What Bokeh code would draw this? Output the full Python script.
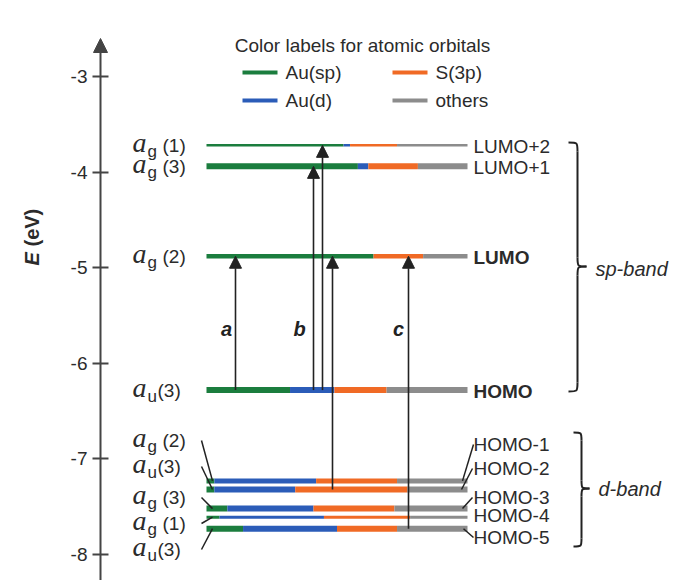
import numpy as np
from bokeh.plotting import figure
from bokeh.models import ColumnDataSource, Range1d, LinearAxis, FixedTicker, Arrow, NormalHead
from bokeh.core.properties import value
from bokeh.embed import file_html
from bokeh.resources import INLINE

# ---------------- data ----------------
level_names = ["LUMO+2", "LUMO+1", "LUMO", "HOMO", "HOMO-1", "HOMO-2", "HOMO-3", "HOMO-4", "HOMO-5"]
level_energy = [-3.72, -3.94, -4.88, -6.28, -7.23, -7.32, -7.52, -7.61, -7.73]
level_sym = ["g", "g", "g", "u", "g", "u", "g", "g", "u"]
level_num = ["(1)", "(3)", "(2)", "(3)", "(2)", "(3)", "(3)", "(1)", "(3)"]
frac_au_sp = [0.525, 0.58, 0.64, 0.32, 0.03, 0.03, 0.08, 0.05, 0.14]
frac_au_d = [0.025, 0.04, 0.00, 0.17, 0.39, 0.31, 0.33, 0.40, 0.36]
frac_s3p = [0.18, 0.19, 0.19, 0.20, 0.31, 0.43, 0.31, 0.33, 0.23]
frac_other = [0.27, 0.19, 0.17, 0.31, 0.27, 0.23, 0.28, 0.22, 0.27]
component_names = ["Au(sp)", "Au(d)", "S(3p)", "others"]
transition_from = ["HOMO", "HOMO", "HOMO", "HOMO-2", "HOMO-5"]
transition_to = ["LUMO", "LUMO+1", "LUMO+2", "LUMO", "LUMO"]
transition_label = ["a", "b", "", "", "c"]
y_ticks = [-8, -7, -6, -5, -4, -3]

# ---------------- layout / style ----------------
W, H = 687, 580
PX_PER_EV = 95.6
Y_AT_M3 = 76.0


def ypx(y):
    """layout pixel row -> energy coordinate"""
    return -3.0 - (y - Y_AT_M3) / PX_PER_EV


def epx(e):
    return Y_AT_M3 + (-3.0 - e) * PX_PER_EV


comp_colors = ["#1b7d3e", "#2b5cb8", "#f06a25", "#8c8c8c"]
bar_x0, bar_x1 = 206.0, 467.0
bar_lw = [2.5, 6, 4.5, 6, 5, 6, 6, 3, 6]
arrow_x = [235, 313, 322, 332, 408]
SANS = value("Liberation Sans")
SERIF = value("Liberation Serif")
INK = "#222222"
TXT = "#2b2b2b"

p = figure(width=W, height=H, x_range=Range1d(0, W), y_range=Range1d(ypx(H), ypx(0)),
           output_backend="svg", toolbar_location=None,
           x_axis_location=None, y_axis_location=None)
p.min_border = 0
p.outline_line_color = None
p.grid.visible = False
p.background_fill_color = "white"
p.border_fill_color = "white"

# ---------------- y axis ----------------
ax = LinearAxis(fixed_location=100, ticker=FixedTicker(ticks=y_ticks))
ax.axis_line_color = None
ax.major_tick_in = 8
ax.major_tick_out = 8
ax.major_tick_line_width = 2
ax.major_tick_line_color = "#444444"
ax.minor_tick_line_color = None
ax.major_label_overrides = {t: str(t) for t in y_ticks}
ax.major_label_text_font = "Liberation Sans"
ax.major_label_text_font_size = "19px"
ax.major_label_text_color = TXT
ax.major_label_standoff = 5
p.add_layout(ax, "left")
p.add_layout(Arrow(end=NormalHead(size=14, fill_color="#444444", line_color="#444444"),
                   x_start=100, y_start=ypx(H), x_end=100, y_end=ypx(38),
                   line_color="#444444", line_width=2))
p.text(x=[31], y=[ypx(265)], text=["E"], angle=np.pi / 2, text_font=SANS,
       text_font_size="20px", text_font_style="bold italic", text_align="left",
       text_baseline="middle", text_color=TXT)
p.text(x=[31], y=[ypx(246)], text=["(eV)"], angle=np.pi / 2, text_font=SANS,
       text_font_size="20px", text_font_style="bold", text_align="left",
       text_baseline="middle", text_color=TXT)

# ---------------- level bars ----------------
seg = dict(x0=[], x1=[], y=[], c=[], lw=[])
fr = list(zip(frac_au_sp, frac_au_d, frac_s3p, frac_other))
for i, e in enumerate(level_energy):
    cum = 0.0
    for k, f in enumerate(fr[i]):
        if f <= 0:
            continue
        seg["x0"].append(bar_x0 + cum * (bar_x1 - bar_x0))
        cum += f
        seg["x1"].append(bar_x0 + cum * (bar_x1 - bar_x0))
        seg["y"].append(e)
        seg["c"].append(comp_colors[k])
        seg["lw"].append(bar_lw[i])
p.segment(x0="x0", x1="x1", y0="y", y1="y", line_color="c", line_width="lw",
          line_cap="butt", source=ColumnDataSource(seg))

# ---------------- transitions ----------------
idx = {n: i for i, n in enumerate(level_names)}
tr = ColumnDataSource(dict(x=arrow_x,
                           y0=[level_energy[idx[a]] for a in transition_from],
                           y1=[level_energy[idx[b]] for b in transition_to]))
p.add_layout(Arrow(end=NormalHead(size=12, fill_color=INK, line_color=INK, line_width=1),
                   x_start="x", y_start="y0", x_end="x", y_end="y1", source=tr,
                   line_color=INK, line_width=1.6))
lab_x = [226, 299, 0, 0, 398]
lab = [(lab_x[i], transition_label[i]) for i in range(5) if transition_label[i]]
p.text(x=[a for a, _ in lab], y=[ypx(328)] * len(lab), text=[b for _, b in lab],
       text_font=SANS, text_font_size="20px", text_font_style="bold italic",
       text_align="center", text_baseline="middle", text_color=INK)

# ---------------- left symmetry labels ----------------
left_y = [epx(level_energy[i]) for i in range(4)] + [440, 466, 497, 523, 549]
p.text(x=[132] * 9, y=[ypx(v - 3) for v in left_y], text=["a"] * 9, text_font=SERIF,
       text_font_size="28px", text_font_style="italic", text_align="left",
       text_baseline="middle", text_color=TXT)
p.text(x=[147] * 9, y=[ypx(v + 6) for v in left_y], text=level_sym, text_font=SANS,
       text_font_size="17px", text_align="left", text_baseline="middle", text_color=TXT)
p.text(x=[162 if s == "g" else 157 for s in level_sym], y=[ypx(v) for v in left_y],
       text=level_num, text_font=SANS, text_font_size="19px", text_align="left",
       text_baseline="middle", text_color=TXT)
# leader lines, d-band (left)
p.segment(x0=[201] * 5, y0=[ypx(v) for v in left_y[4:]],
          x1=[212] * 5, y1=level_energy[4:], line_color=INK, line_width=1.5)

# ---------------- right level names ----------------
right_y = [epx(level_energy[i]) + 1 for i in range(4)] + [444, 468, 497, 515, 537]
p.text(x=[473] * 9, y=[ypx(v) for v in right_y], text=level_names, text_font=SANS,
       text_font_size="19px",
       text_font_style=["normal", "normal", "bold", "bold"] + ["normal"] * 5,
       text_align="left", text_baseline="middle", text_color=TXT)
p.segment(x0=[473, 472, 472, 473], y0=[ypx(right_y[i]) for i in (4, 5, 6, 8)],
          x1=[462, 461, 462, 463], y1=[level_energy[i] for i in (4, 5, 6, 8)],
          line_color=INK, line_width=1.5)


# ---------------- braces ----------------
def brace(x, w, ytop, ybot, ymid, r=9):
    xm = x + w / 2.0
    bz = dict(x0=[], y0=[], x1=[], y1=[], cx0=[], cy0=[], cx1=[], cy1=[])

    def add(a, b, c0, c1):
        for kk, vv in zip(("x0", "y0", "x1", "y1", "cx0", "cy0", "cx1", "cy1"),
                          (a[0], a[1], b[0], b[1], c0[0], c0[1], c1[0], c1[1])):
            bz[kk].append(vv if kk.startswith(("x", "cx")) else ypx(vv))
    add((x, ytop), (xm, ytop + r), (xm, ytop), (xm, ytop))
    add((xm, ymid - r), (x + w, ymid), (xm, ymid), (xm, ymid))
    add((x + w, ymid), (xm, ymid + r), (xm, ymid), (xm, ymid))
    add((xm, ybot - r), (x, ybot), (xm, ybot), (xm, ybot))
    p.bezier(x0="x0", y0="y0", x1="x1", y1="y1", cx0="cx0", cy0="cy0", cx1="cx1",
             cy1="cy1", line_color=INK, line_width=2, source=ColumnDataSource(bz))
    p.segment(x0=[xm, xm], x1=[xm, xm], y0=[ypx(ytop + r), ypx(ymid + r)],
              y1=[ypx(ymid - r), ypx(ybot - r)], line_color=INK, line_width=2)


brace(568, 18, 142, 391, 266)
brace(573, 16, 432, 546, 488, r=8)
p.text(x=[595, 598], y=[ypx(268), ypx(488)], text=["sp-band", "d-band"], text_font=SANS,
       text_font_size="20px", text_font_style="italic", text_align="left",
       text_baseline="middle", text_color=TXT)

# ---------------- colour legend ----------------
p.text(x=[362], y=[ypx(45)], text=["Color labels for atomic orbitals"], text_font=SANS,
       text_font_size="19px", text_align="center", text_baseline="middle",
       text_color=TXT)
leg_x = [242, 242, 392, 392]
leg_y = [72, 100, 72, 100]
p.segment(x0=leg_x, x1=[v + 35 for v in leg_x], y0=[ypx(v) for v in leg_y],
          y1=[ypx(v) for v in leg_y], line_color=comp_colors, line_width=4)
p.text(x=[v + 43 for v in leg_x], y=[ypx(v) for v in leg_y], text=component_names,
       text_font=SANS, text_font_size="19px", text_align="left", text_baseline="middle",
       text_color=TXT)

open("out.html", "w").write(file_html(p, INLINE))
